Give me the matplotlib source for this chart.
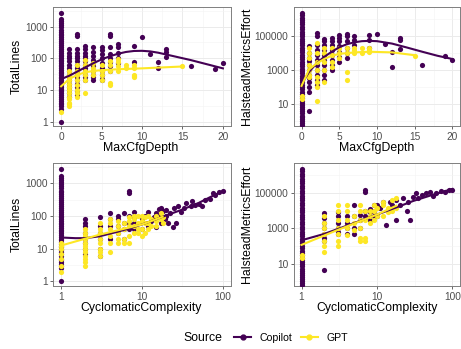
import matplotlib
matplotlib.use("Agg")
import matplotlib.pyplot as plt
from matplotlib.lines import Line2D

plt.rcParams['font.family'] = ['Liberation Sans', 'DejaVu Sans']

COPILOT = '#440154'
GPT = '#FDE725'

# ---- data: {x value: [y values]} ----
# MaxCfgDepth vs TotalLines
tl_copilot = {
    0: [1, 2.5, 3, 3.5, 4, 4.5, 5, 6, 7, 8, 9, 10, 11, 12, 14, 16, 18, 20, 23, 26, 30,
        34, 38, 43, 50, 56, 63, 70, 80, 90, 100, 115, 130, 150, 170, 200, 230, 260, 300,
        350, 400, 460, 530, 600, 700, 800, 950, 1100, 1300, 1500, 1700, 2700],
    1: [6, 8, 10, 12, 15, 20, 25, 30, 40, 50, 60, 80, 100, 120, 150, 200],
    2: [7, 9, 12, 15, 20, 25, 30, 40, 50, 60, 80, 100, 120, 150, 200, 500, 600],
    3: [20, 25, 30, 40, 50, 60, 80, 100, 120, 150, 200, 250],
    4: [20, 25, 30, 40, 55, 70, 90, 120, 160, 230],
    5: [20, 22, 30, 40, 50, 70, 100, 140, 180, 230],
    6: [40, 55, 75, 100, 140, 220, 500, 600],
    7: [70, 100, 150, 230, 280],
    9: [75, 240],
    10: [480],
    11: [140],
    12: [50, 75],
    13: [110, 160, 190],
    16: [55],
    19: [45],
    20: [70],
}
tl_gpt = {
    0: [2],
    1: [3, 3.5, 4, 5, 6, 8, 10, 12, 15, 20, 25, 30, 40],
    2: [6, 8, 10, 14, 20, 30, 40, 60],
    3: [8, 20, 30, 40, 60, 90],
    4: [30, 40, 50, 70],
    5: [20, 30, 40, 60],
    6: [14, 16, 40, 60, 80],
    7: [40, 55, 75, 95],
    8: [50, 60],
    9: [25, 28, 30, 50, 60],
    15: [55],
}
tl_copilot_fit_x = [0, 1, 2, 3, 4, 5, 6, 7, 8, 9, 10, 11, 12, 14, 16, 18, 20]
tl_copilot_fit_y = [22, 28, 38, 52, 70, 92, 115, 138, 158, 170, 172, 165, 150, 115, 88, 65, 48]
tl_gpt_fit_x = [0, 1, 2, 3, 4, 5, 7, 10, 15]
tl_gpt_fit_y = [13, 22, 30, 36, 40, 42, 45, 48, 55]

# MaxCfgDepth vs HalsteadMetricsEffort
tr_copilot = {
    0: [0.6, 0.8, 1, 1.3, 1.7, 2.2, 3, 4, 5, 7, 9, 12, 16, 22, 30, 40, 55, 75, 100, 140,
        190, 260, 350, 480, 650, 900, 1200, 1700, 2300, 3200, 4300, 6000, 8000, 11000,
        15000, 20000, 28000, 38000, 52000, 70000, 95000, 130000, 180000, 250000, 350000,
        480000, 650000, 900000, 1200000, 1700000, 2300000],
    1: [4, 50, 100, 200, 350, 500, 1000, 2000, 3500, 5000, 10000, 25000],
    2: [135, 250, 500, 1000, 2000, 4000, 8000, 15000, 30000, 100000, 150000],
    3: [260, 500, 1000, 2000, 4000, 8000, 15000, 30000, 50000, 70000],
    4: [1000, 2000, 4000, 8000, 15000, 30000, 50000, 80000],
    5: [3000, 6000, 12000, 25000, 50000, 80000, 120000],
    6: [5000, 10000, 20000, 50000, 100000, 140000],
    7: [30000, 60000, 100000],
    9: [20000, 60000, 110000],
    10: [140000],
    11: [35000],
    12: [1500, 12000],
    13: [18000, 60000, 80000],
    16: [2000],
    19: [7000],
    20: [4000],
}
tr_gpt = {
    0: [20, 30],
    1: [400, 500, 1000, 2000, 5000, 10000, 20000],
    2: [15, 100, 200, 400, 1000, 3000, 10000, 40000],
    3: [200, 1000, 3000, 10000, 20000],
    4: [1500, 3000, 8000, 20000],
    5: [5000, 10000, 20000],
    6: [250, 800, 10000, 20000],
    7: [10000, 15000, 20000],
    8: [10000, 20000],
    9: [12000, 15000, 20000],
    15: [7000],
}
tr_copilot_fit_x = [0, 1, 2, 3, 4, 5, 6, 7, 8, 9, 10, 12, 14, 16, 18, 20]
tr_copilot_fit_y = [150, 800, 2500, 6000, 12000, 22000, 33000, 43000, 50000, 52000,
                    50000, 36000, 21000, 12000, 7000, 4500]
tr_gpt_fit_x = [0, 1, 2, 3, 4, 5, 7, 9, 12, 15]
tr_gpt_fit_y = [120, 1100, 2500, 4500, 7000, 9000, 11000, 12000, 11000, 7500]

# CyclomaticComplexity vs TotalLines
bl_copilot = {
    1: [1, 2.5, 3, 3.5, 4, 4.5, 5, 6, 7, 8, 9, 10, 11, 12, 14, 16, 18, 20, 23, 26, 30,
        34, 38, 43, 50, 56, 63, 70, 80, 90, 100, 115, 130, 150, 170, 200, 230, 260, 300,
        350, 400, 460, 530, 600, 700, 800, 950, 1100, 1300, 1500, 1700, 2700],
    2: [7, 10, 15, 20, 30, 50, 60, 80],
    3: [6, 10, 20, 30, 50, 90],
    4: [20, 50, 80, 120],
    5: [30, 50, 80, 100],
    6: [20, 40, 60, 120],
    7: [40, 60, 100, 500, 600],
    8: [40, 60, 90, 130],
    10: [40, 80], 11: [100], 12: [50, 130], 13: [70], 14: [90], 15: [45, 120],
    16: [100, 160], 17: [60, 170], 18: [140], 19: [80], 20: [100, 150], 21: [60],
    22: [120], 24: [45], 25: [170], 26: [60], 28: [200], 30: [130], 33: [170],
    35: [250], 40: [200], 42: [280], 45: [220], 50: [230], 55: [200], 60: [300],
    70: [330], 75: [500], 80: [430], 90: [550], 100: [600],
}
bl_gpt = {
    1: [2, 3, 5, 7, 10, 12, 15],
    2: [3, 4, 5, 6, 8, 10, 12, 15, 20, 25, 30, 40],
    3: [6, 8, 10, 15, 20, 30, 40, 60],
    4: [8, 15, 25, 40, 60, 80],
    5: [15, 20, 30, 50, 70],
    6: [15, 20, 40, 60],
    7: [15, 25, 50, 70, 90],
    8: [30, 50, 80, 100],
    9: [30, 40, 60, 100],
    10: [25, 40, 70, 100],
    11: [30, 60, 90],
    12: [40, 60, 100],
    13: [50, 80],
    15: [50, 70, 100],
    17: [80, 120],
    18: [60, 90],
}
bl_copilot_fit_x = [1, 1.5, 2, 3, 5, 7, 10, 15, 20, 30, 50, 70, 100]
bl_copilot_fit_y = [22, 21, 21, 24, 33, 42, 55, 80, 105, 150, 250, 380, 580]
bl_gpt_fit_x = [1, 3, 10, 18]
bl_gpt_fit_y = [12.5, 27, 55, 95]

# CyclomaticComplexity vs HalsteadMetricsEffort
br_copilot = {
    1: [0.6, 0.8, 1, 1.3, 1.7, 2.2, 3, 4, 5, 7, 9, 12, 16, 22, 30, 40, 55, 75, 100, 140,
        190, 260, 350, 480, 650, 900, 1200, 1700, 2300, 3200, 4300, 6000, 8000, 11000,
        15000, 20000, 28000, 38000, 52000, 70000, 95000, 130000, 180000, 250000, 350000,
        480000, 650000, 900000, 1200000, 1700000, 2300000],
    2: [4.5, 200, 300, 500, 1000, 2000, 4000, 7000],
    3: [500, 600, 1000, 2000, 5000, 8000],
    4: [500, 1000, 2000, 5000],
    5: [500, 1000, 5000, 20000],
    6: [1000, 3000, 6000],
    7: [5000, 10000, 120000, 150000],
    8: [3000, 8000, 12000],
    9: [5000, 10000, 20000],
    10: [5000, 20000], 11: [15000], 12: [30000], 13: [1600], 14: [10000],
    15: [30000], 16: [20000], 18: [3000, 40000], 20: [20000], 22: [50000],
    25: [10000], 26: [30000], 27: [3000], 30: [60000], 33: [100000], 35: [50000],
    40: [80000], 45: [100000], 50: [120000], 55: [70000], 60: [100000],
    70: [130000], 80: [120000], 90: [150000], 100: [150000],
}
br_gpt = {
    1: [20, 30],
    2: [45, 100, 200, 500, 1000, 2000, 5000],
    3: [100, 200, 500, 1000, 3000, 10000, 20000],
    4: [400, 1000, 3000, 10000, 20000],
    5: [800, 2000, 5000],
    6: [200, 300, 1000, 3000, 10000, 20000],
    7: [200, 300, 3000, 10000],
    8: [2000, 5000, 10000],
    9: [3000, 10000, 20000],
    10: [5000, 15000],
    12: [5000, 20000, 30000],
    14: [8000, 15000],
    16: [10000, 40000],
    18: [15000, 50000],
}
br_copilot_fit_x = [1, 2, 3, 5, 10, 20, 30, 50, 100]
br_copilot_fit_y = [210, 480, 900, 2000, 6000, 18000, 35000, 70000, 170000]
br_gpt_fit_x = [1, 3, 10, 18]
br_gpt_fit_y = [115, 800, 6000, 19000]


def expand(groups):
    xs, ys = [], []
    for x, vals in groups.items():
        for v in vals:
            xs.append(x)
            ys.append(v)
    return xs, ys


def draw_panel(ax, cop, gpt, cop_fit, gpt_fit):
    cx, cy = expand(cop)
    gx, gy = expand(gpt)
    ax.scatter(cx, cy, s=14, color=COPILOT, linewidths=0, zorder=3)
    ax.scatter(gx, gy, s=14, color=GPT, linewidths=0, zorder=3)
    ax.plot(cop_fit[0], cop_fit[1], color=COPILOT, lw=1.5, zorder=4)
    ax.plot(gpt_fit[0], gpt_fit[1], color=GPT, lw=1.5, zorder=4)
    ax.set_facecolor('white')
    ax.grid(True, which='major', color='#EBEBEB', lw=0.7, zorder=0)
    ax.grid(True, which='minor', color='#F3F3F3', lw=0.4, zorder=0)
    ax.set_axisbelow(True)
    for sp in ax.spines.values():
        sp.set_color('#7F7F7F')
        sp.set_linewidth(0.7)
    ax.tick_params(which='major', length=2.5, width=0.6, color='#4D4D4D',
                   labelsize=7.3, labelcolor='#4D4D4D', pad=1.5)
    ax.tick_params(which='minor', length=0)


def log_axis(axis, major, minor, labels):
    axis.set_major_locator(matplotlib.ticker.FixedLocator(major))
    axis.set_major_formatter(matplotlib.ticker.FixedFormatter(labels))
    axis.set_minor_locator(matplotlib.ticker.FixedLocator(minor))
    axis.set_minor_formatter(matplotlib.ticker.NullFormatter())


W, H = 461, 349
fig = plt.figure(figsize=(W / 100, H / 100), dpi=100)


def add_ax(l, t, r, b):
    return fig.add_axes([l / W, 1 - b / H, (r - l) / W, (b - t) / H])


ax_tl = add_ax(53, 7, 231, 126)
ax_tr = add_ax(294, 7, 460, 126)
ax_bl = add_ax(53, 163, 231, 286)
ax_br = add_ax(294, 163, 460, 286)

draw_panel(ax_tl, tl_copilot, tl_gpt, (tl_copilot_fit_x, tl_copilot_fit_y),
           (tl_gpt_fit_x, tl_gpt_fit_y))
draw_panel(ax_tr, tr_copilot, tr_gpt, (tr_copilot_fit_x, tr_copilot_fit_y),
           (tr_gpt_fit_x, tr_gpt_fit_y))
draw_panel(ax_bl, bl_copilot, bl_gpt, (bl_copilot_fit_x, bl_copilot_fit_y),
           (bl_gpt_fit_x, bl_gpt_fit_y))
draw_panel(ax_br, br_copilot, br_gpt, (br_copilot_fit_x, br_copilot_fit_y),
           (br_gpt_fit_x, br_gpt_fit_y))

lines_major = [1, 10, 100, 1000]
lines_minor = [0.316, 3.16, 31.6, 316, 3162]
eff_major = [10, 1000, 100000]
eff_minor = [0.1, 1, 100, 10000, 1000000]

for ax in (ax_tl, ax_tr):
    ax.set_xlim(-1, 21)
    ax.set_xticks([0, 5, 10, 15, 20])
    ax.set_xticks([2.5, 7.5, 12.5, 17.5], minor=True)
for ax in (ax_bl, ax_br):
    ax.set_xscale('log')
    ax.set_xlim(10 ** -0.1, 10 ** 2.1)
    log_axis(ax.xaxis, [1, 10, 100], [3.162, 31.62], ['1', '10', '100'])

for ax in (ax_tl, ax_bl):
    ax.set_yscale('log')
    ax.set_ylim(10 ** -0.14, 10 ** 3.62)
    log_axis(ax.yaxis, lines_major, lines_minor, ['1', '10', '100', '1000'])
for ax in (ax_tr, ax_br):
    ax.set_yscale('log')
    ax.set_ylim(10 ** -0.27, 10 ** 6.7)
    log_axis(ax.yaxis, eff_major, eff_minor, ['10', '1000', '100000'])

title_kw = dict(fontsize=8.8, color='black', ha='center', va='center')
fig.text(141 / W, 1 - 148 / H, 'MaxCfgDepth', **title_kw)
fig.text(377 / W, 1 - 148 / H, 'MaxCfgDepth', **title_kw)
fig.text(141 / W, 1 - 308 / H, 'CyclomaticComplexity', **title_kw)
fig.text(377 / W, 1 - 308 / H, 'CyclomaticComplexity', **title_kw)
fig.text(17 / W, 1 - 66 / H, 'TotalLines', rotation=90, **title_kw)
fig.text(17 / W, 1 - 224 / H, 'TotalLines', rotation=90, **title_kw)
fig.text(247 / W, 1 - 66 / H, 'HalsteadMetricsEffort', rotation=90, **title_kw)
fig.text(247 / W, 1 - 224 / H, 'HalsteadMetricsEffort', rotation=90, **title_kw)

fig.text(203 / W, 1 - 338 / H, 'Source', **title_kw)
handles = [Line2D([], [], color=COPILOT, lw=1.5, marker='o', markersize=3.5),
           Line2D([], [], color=GPT, lw=1.5, marker='o', markersize=3.5)]
fig.legend(handles, ['Copilot', 'GPT'], loc='center', ncol=2,
           bbox_to_anchor=(291 / W, 1 - 338 / H), frameon=False, fontsize=7.6,
           handlelength=1.6, handletextpad=0.8, columnspacing=0.8, borderpad=0)

fig.savefig('out.png', dpi=100)
